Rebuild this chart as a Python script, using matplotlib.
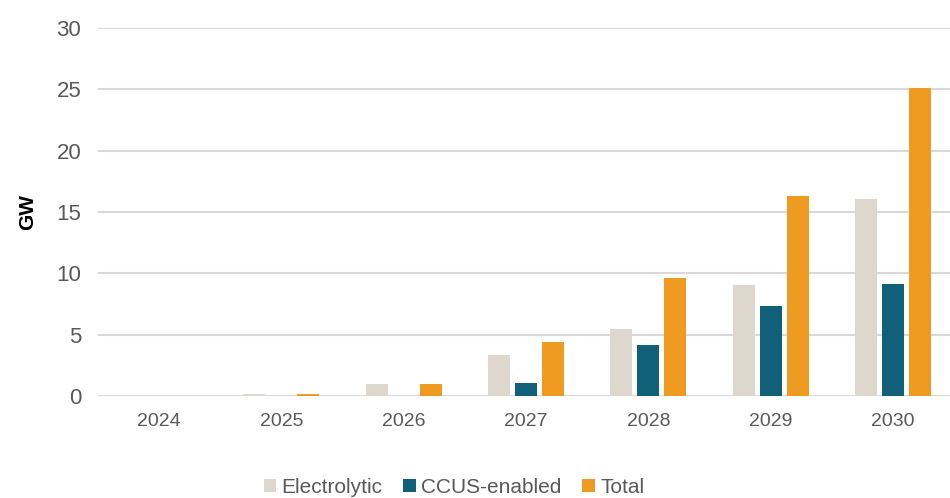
import matplotlib
matplotlib.use("Agg")
import matplotlib.pyplot as plt
import numpy as np
from matplotlib.patches import Patch

plt.rcParams['font.family'] = ['Liberation Sans', 'DejaVu Sans']

years = ["2024", "2025", "2026", "2027", "2028", "2029", "2030"]
electrolytic = [0.0, 0.2, 1.0, 3.35, 5.5, 9.05, 16.05]
ccus = [0.0, 0.0, 0.0, 1.1, 4.15, 7.3, 9.1]
total = [0.0, 0.2, 1.0, 4.4, 9.6, 16.3, 25.1]
series_names = ["Electrolytic", "CCUS-enabled", "Total"]
colors = ["#DED7CE", "#0F6078", "#EF9A20"]

fig = plt.figure(figsize=(9.5, 4.98), dpi=100)
ax = fig.add_axes([98/950, (498-396)/498, (950-98)/950, 368/498])

x = np.arange(len(years))
w = 0.18
step = 0.221
for i, (vals, c) in enumerate(zip([electrolytic, ccus, total], colors)):
    ax.bar(x + (i - 1) * step, vals, width=w, color=c, zorder=3)

ax.set_ylim(0, 30)
ax.set_xlim(-0.5, 6.5 - 4/122.3)
ax.set_yticks(range(0, 31, 5))
ax.set_xticks(x)
ax.set_xticklabels(years)
ax.yaxis.grid(True, color='#D9D9D9', linewidth=1.5, zorder=0)
ax.set_axisbelow(True)
for s in ax.spines.values():
    s.set_visible(False)
ax.tick_params(axis='both', length=0, colors='#595959')
ax.tick_params(axis='y', labelsize=16, pad=12)
ax.tick_params(axis='x', labelsize=14, pad=12)
ax.set_ylabel("GW", fontsize=15, fontweight='bold', color='#000000', labelpad=14)

handles = [Patch(facecolor=c, edgecolor='none') for c in colors]
fig.legend(handles, series_names, loc='center', bbox_to_anchor=(454/950, 1 - 487/498),
           ncol=3, frameon=False, fontsize=15, handlelength=0.6, handleheight=0.6,
           handletextpad=0.25, columnspacing=1.0, labelcolor='#595959')

fig.savefig("out.png", dpi=100)
